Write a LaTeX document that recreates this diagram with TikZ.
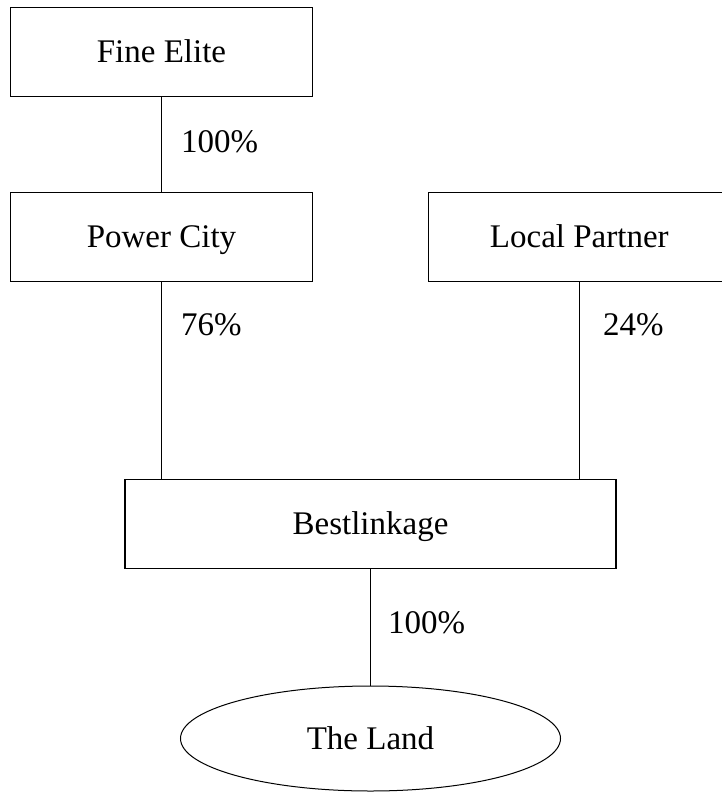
\documentclass[tikz,border=0pt]{standalone}
\usepackage{fontspec}
\setmainfont{Liberation Serif}
\usetikzlibrary{shapes.geometric}
\begin{document}
\begin{tikzpicture}[x=1pt, y=-1pt,
    every node/.style={font=\fontsize{33pt}{40pt}\selectfont},
    box/.style={draw, line width=1.1pt, minimum width=301.6pt, minimum height=89pt, inner sep=0pt, text height=21.8pt, text depth=0pt},
    link/.style={line width=1pt},
    share/.style={anchor=west, inner sep=0pt}]
    \useasboundingbox (0,0) rectangle (721,793);

    \node[box] (fine)    at (161.5, 51.7) {Fine Elite};
    \node[box] (power)   at (161.5,236.6) {Power City};
    \node[box] (partner) at (579.3,236.6) {Local Partner};
    \node[box, minimum width=491pt] (best) at (370.5,523.8) {Bestlinkage};
    \node[draw, ellipse, line width=1pt, minimum width=380pt, minimum height=105pt, text height=21.8pt, text depth=0pt] (land) at (370.5,738.5) {The Land};

    \draw[link] (fine.south) -- (power.north);
    \draw[link] (power.south) -- (power.south |- best.north);
    \draw[link] (partner.south) -- (partner.south |- best.north);
    \draw[link] (best.south) -- (land.north);

    \node[share] (pfine)    at (181,142.0) {100\%};
    \node[share] (ppower)   at (181,324.5) {76\%};
    \node[share] (ppartner) at (603,324.5) {24\%};
    \node[share] (pbest)    at (388,622.5) {100\%};
\end{tikzpicture}
\end{document}
